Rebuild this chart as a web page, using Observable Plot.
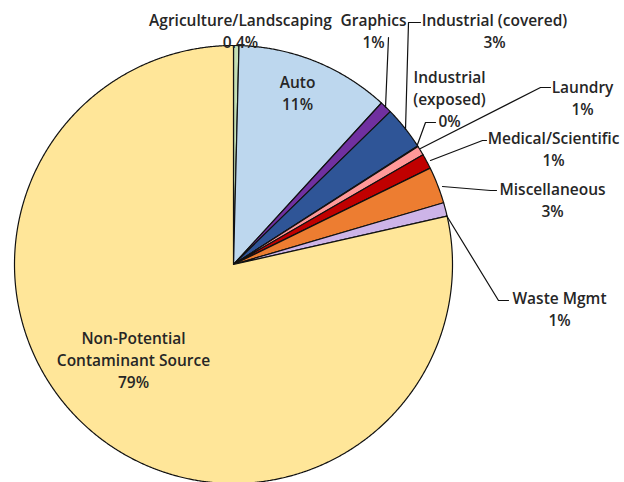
<!DOCTYPE html>
<html>
<head>
<meta charset="utf-8">
<script src="https://cdn.jsdelivr.net/npm/d3@7"></script>
<script src="https://cdn.jsdelivr.net/npm/@observablehq/plot@0.6"></script>
<style>
  html, body { margin: 0; padding: 0; background: #fff; }
  #chart svg { display: block; }
</style>
</head>
<body>
<div id="chart"></div>
<script>
// ---- Data (clockwise from 12 o'clock) ----
const categories = [
  "Agriculture/Landscaping", "Auto", "Graphics", "Industrial (covered)",
  "Industrial (exposed)", "Laundry", "Medical/Scientific", "Miscellaneous",
  "Waste Mgmt", "Non-Potential Contaminant Source"
];
const values = [0.4, 11.4, 0.9, 3.2, 0.05, 0.7, 1.1, 2.7, 1.0, 78.55];
const pctLabels = ["0.4%", "11%", "1%", "3%", "0%", "1%", "1%", "3%", "1%", "79%"];
const labelNames = [
  "Agriculture/Landscaping", "Auto", "Graphics", "Industrial (covered)",
  "Industrial\n(exposed)", "Laundry", "Medical/Scientific", "Miscellaneous",
  "Waste Mgmt", "Non-Potential\nContaminant Source"
];

// ---- Styles / layout ----
const colors = ["#C5E0B4", "#BDD7EE", "#7030A0", "#2F5597", "#A5A5A5",
                "#FF9999", "#C00000", "#ED7D31", "#CDB4E8", "#FFE699"];
const cx = 233, cy = 264, R = 219;
const labelPos = [
  [240, 29], [297, 91], [373, 29], [494, 29], [449, 97],
  [582, 96], [553, 147], [552, 198], [559, 307], [133, 358]
];
const leaders = [
  null, null,
  [[385, 107], [388, 37]],
  [[405, 129], [408, 22], [420, 22]],
  [[417, 144], [425, 122], [435, 122]],
  [[420, 148], [540, 87], [550, 87]],
  [[430, 160], [482, 140], [486, 140]],
  [[442, 186], [490, 190], [496, 190]],
  [[446, 215], [498, 300], [508, 300]],
  null
];

// ---- Build slice polygons via d3.pie ----
const arcs = d3.pie().sort(null).value(d => d)(values);
const slices = arcs.map((a, i) => {
  const pts = [{x: cx, y: cy}];
  const n = Math.max(2, Math.ceil((a.endAngle - a.startAngle) / 0.005));
  for (let k = 0; k <= n; k++) {
    const t = a.startAngle + (a.endAngle - a.startAngle) * k / n;
    pts.push({x: cx + R * Math.sin(t), y: cy - R * Math.cos(t)});
  }
  return pts;
});

const labelData = categories.map((c, i) => ({
  text: labelNames[i] + "\n" + pctLabels[i],
  x: labelPos[i][0], y: labelPos[i][1]
}));
const leaderData = [];
leaders.forEach((L, i) => { if (L) L.forEach(p => leaderData.push({k: i, x: p[0], y: p[1]})); });

const chart = Plot.plot({
  width: 624,
  height: 482,
  margin: 0,
  x: {domain: [0, 624], range: [0, 624], axis: null},
  y: {domain: [0, 482], range: [0, 482], axis: null},
  marks: [
    ...slices.map((pts, i) => Plot.line(pts, {
      x: "x", y: "y", curve: "linear-closed",
      fill: colors[i], stroke: "#111", strokeWidth: 1.2, strokeLinejoin: "round"
    })),
    Plot.line(leaderData, {x: "x", y: "y", z: "k", stroke: "#111", strokeWidth: 1.2}),
    Plot.text(labelData, {
      x: "x", y: "y", text: "text",
      fontFamily: "'Open Sans', Lato, sans-serif",
      fontSize: 15.5, fontWeight: 600, fill: "#262626",
      lineHeight: 1.42, textAnchor: "middle"
    })
  ]
});
document.getElementById("chart").appendChild(chart);
</script>
</body>
</html>
